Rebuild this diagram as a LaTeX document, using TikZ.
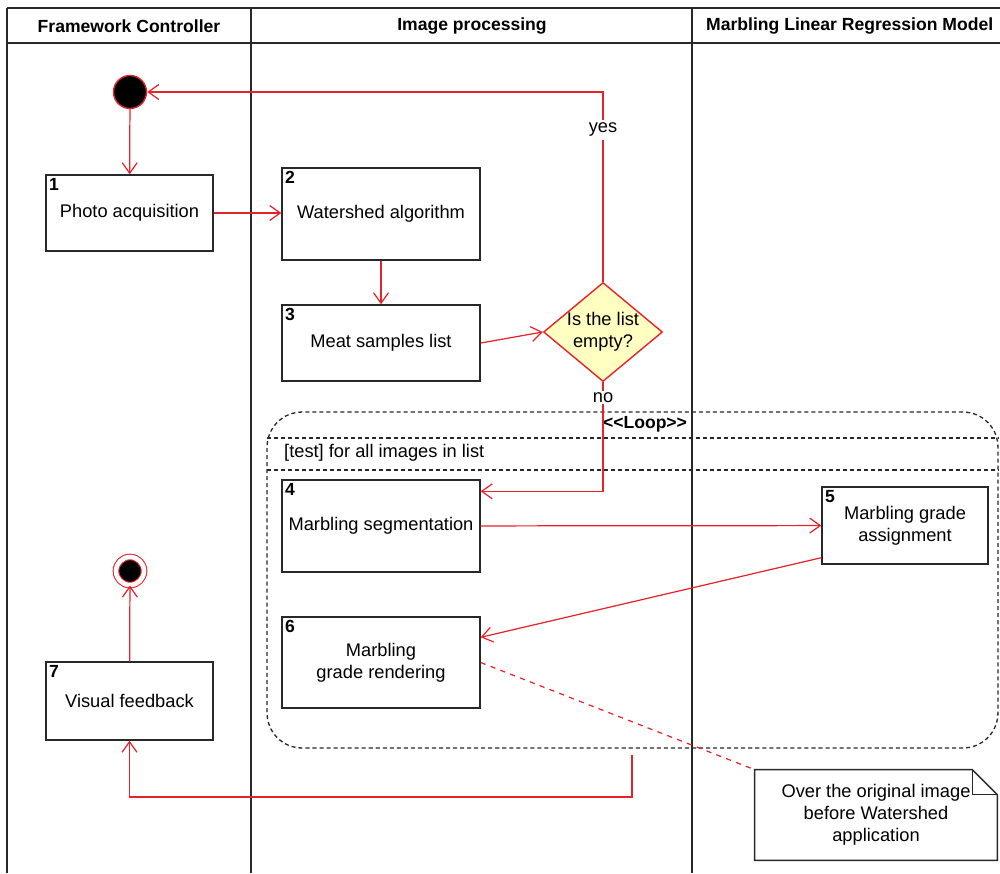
\documentclass[tikz,border=0pt]{standalone}
\usepackage{fontspec}
\setmainfont{Liberation Sans}
\usetikzlibrary{shapes.geometric, arrows.meta}

\definecolor{flowred}{RGB}{230,34,42}
\definecolor{decisionfill}{RGB}{255,255,194}
\definecolor{lanegray}{RGB}{40,40,40}

\tikzset{
    action/.style={draw=lanegray, line width=0.8pt, fill=white, align=center,
        minimum width=3.96cm, minimum height=1.84cm},
    stepno/.style={anchor=north west, inner sep=2pt, font=\bfseries},
    flow/.style={->, flowred, line width=0.7pt},
    lane/.style={lanegray, line width=0.8pt},
    loopline/.style={lanegray, line width=0.75pt, dash pattern=on 2.3pt off 1.7pt},
}

\begin{document}
\begin{tikzpicture}[x=0.02cm, y=-0.02cm, >={Straight Barb[length=6pt, width=8.5pt]},
    font=\fontsize{10.4pt}{12.5pt}\selectfont]
    \useasboundingbox (0, 0) rectangle (1000, 873);

    % Swimlanes
    \draw[lane] (7, 8) -- (1000, 8);
    \draw[lane] (7, 43) -- (1000, 43);
    \foreach \x in {7, 251, 692} {
        \draw[lane] (\x, 8) -- (\x, 873);
    }
    \node[font=\bfseries] (lane1) at (129, 26) {Framework Controller};
    \node[font=\bfseries] (lane2) at (472, 26) {Image processing};
    \node[font=\bfseries, anchor=west] (lane3) at (700, 26) {Marbling Linear Regression Model};

    % Loop fragment
    \node[loopline, draw, rounded corners=0.7cm, minimum width=14.62cm, minimum height=6.72cm] (loop) at (632.5, 580) {};
    \draw[loopline] (267, 438) -- (998, 438);
    \draw[loopline] (267, 470) -- (998, 470);
    \node[font=\bfseries] (looptitle) at (645, 424) {<{}<Loop>{}>};
    \node[anchor=west] (looptest) at (278, 453) {[test] for all images in list};

    % Start and end
    \node[circle, draw=flowred, fill=black, line width=0.8pt, minimum size=0.66cm] (start) at (130, 92) {};
    \node[circle, draw=flowred, fill=black, line width=0.6pt, double=white, double distance=2.6pt,
        minimum size=0.56cm] (stop) at (130, 571) {};

    % Actions
    \node[action, minimum width=3.34cm, minimum height=1.52cm, label={[stepno]north west:1}] (b1) at (129.5, 213) {Photo acquisition};
    \node[action, label={[stepno]north west:2}] (b2) at (381, 214) {Watershed algorithm};
    \node[action, minimum height=1.52cm, label={[stepno]north west:3}] (b3) at (381, 343) {Meat samples list};
    \node[action, label={[stepno]north west:4}] (b4) at (381, 526) {Marbling segmentation};
    \node[action, minimum width=3.32cm, minimum height=1.54cm, label={[stepno]north west:5}] (b5) at (905, 525.5) {Marbling grade\\assignment};
    \node[action, minimum height=1.82cm, label={[stepno]north west:6}] (b6) at (381, 662.5) {Marbling\\grade rendering};
    \node[action, minimum width=3.34cm, minimum height=1.56cm, label={[stepno]north west:7}] (b7) at (129.5, 701) {Visual feedback};

    % Decision
    \node[diamond, draw=flowred, fill=decisionfill, line width=0.8pt, inner sep=0pt, aspect=1.2,
        minimum width=2.38cm, minimum height=1.94cm, align=center] (dec) at (603, 332) {Is the list\\empty?};

    % Note
    \node[minimum width=4.84cm, minimum height=1.8cm, align=center] (note) at (876, 815)
        {Over the original image\\before Watershed\\application};
    \draw[lanegray, line width=0.8pt] (note.north west) -- ([xshift=-0.5cm]note.north east)
        -- ([yshift=-0.5cm]note.north east) -- (note.south east) -- (note.south west) -- cycle;
    \draw[lanegray, line width=0.8pt] ([xshift=-0.5cm]note.north east) |- ([yshift=-0.5cm]note.north east);

    % Flows
    \draw[flow] (start) -- (b1);
    \draw[flow] (b1.east) -- (b2.west |- b1.east);
    \draw[flow] (b2) -- (b3);
    \draw[flow] (b3.east) -- (dec.west);
    \draw[flow] (dec.north) -- (dec.north |- start) node[pos=0.8, fill=white, text=black, inner sep=2pt] {yes} -- (start);
    \draw[flow] (dec.south) |- ([yshift=-0.24cm]b4.north east) node[pos=0.07, fill=white, text=black, inner sep=1pt] {no};
    \draw[flow] (b4) -- (b5);
    \draw[flow] ([yshift=0.14cm]b5.south west) -- ([yshift=-0.42cm]b6.north east);
    \draw[flowred, line width=0.7pt, dashed] (b6.east) -- (note.north west);
    \coordinate (loopout) at (632, 755);
    \draw[flow] (loopout) -- (loopout |- 0, 797) -| (b7.south);
    \draw[flow] (b7) -- (stop);
\end{tikzpicture}
\end{document}
